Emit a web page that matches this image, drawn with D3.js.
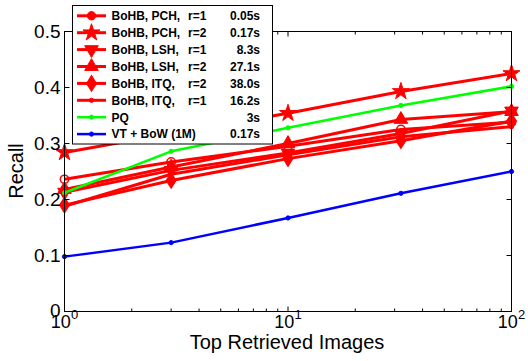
<!DOCTYPE html>
<html><head><meta charset="utf-8">
<script src="https://cdn.jsdelivr.net/npm/d3@7"></script>
<style>body{margin:0;background:#fff}svg{display:block}</style>
</head><body>
<svg id="c" width="528" height="361"></svg>
<script>
const xValues = [1, 3, 10, 32, 100];
const seriesNames = ["BoHB, PCH,", "BoHB, PCH,", "BoHB, LSH,", "BoHB, LSH,", "BoHB, ITQ,", "BoHB, ITQ,", "PQ", "VT + BoW (1M)"];
const seriesR = ["r=1", "r=2", "r=1", "r=2", "r=2", "r=1", "", ""];
const seriesTimes = ["0.05s", "0.17s", "8.3s", "27.1s", "38.0s", "16.2s", "3s", "0.17s"];
const pchR1 = [0.236, 0.267, 0.295, 0.325, 0.338];
const pchR2 = [0.284, 0.318, 0.354, 0.393, 0.425];
const lshR1 = [0.213, 0.252, 0.283, 0.318, 0.358];
const lshR2 = [0.218, 0.258, 0.300, 0.343, 0.357];
const itqR2 = [0.190, 0.234, 0.273, 0.305, 0.340];
const itqR1 = [0.188, 0.245, 0.280, 0.312, 0.330];
const pq = [0.212, 0.286, 0.328, 0.368, 0.402];
const vtBow = [0.098, 0.123, 0.167, 0.211, 0.250];
const yTicks = [0, 0.1, 0.2, 0.3, 0.4, 0.5];
const xTickExps = [0, 1, 2];

const seriesValues = [pchR1, pchR2, lshR1, lshR2, itqR2, itqR1, pq, vtBow];
const colors = ["#ff0000","#ff0000","#ff0000","#ff0000","#ff0000","#ff0000","#00ff00","#0000ff"];
const markers = ["circle","star","down","up","diamond","dot","dot","dot"];

const svg = d3.select("#c");
const L = 64.5, R = 511.5, T = 31.5, B = 311.5;
const x = d3.scaleLog().domain([1, 100]).range([L, R]);
const y = d3.scaleLinear().domain([0, 0.5]).range([B, T]);

function markerPath(m) {
  switch (m) {
    case "circle": return d3.symbol(d3.symbolCircle, 55)();
    case "star": return d3.symbol(d3.symbolStar, 90)();
    case "up": return d3.symbol(d3.symbolTriangle, 80)();
    case "down": return d3.symbol(d3.symbolTriangle, 80)();
    case "diamond": return d3.symbol(d3.symbolDiamond, 70)();
    default: return d3.symbol(d3.symbolCircle, 14)();
  }
}
function markerTransform(m, px, py) {
  return `translate(${px},${py})` + (m === "down" ? " rotate(180)" : "") + (m === "diamond" ? " scale(1.1,1)" : "");
}

const g = svg.append("g");
const lineGen = d3.line().x((d, i) => x(xValues[i])).y(d => y(d));

seriesValues.forEach((vals, s) => {
  const sg = g.append("g");
  sg.append("path").attr("d", lineGen(vals)).attr("fill", "none")
    .attr("stroke", colors[s]).attr("stroke-width", s < 6 ? 3 : 2.5).attr("stroke-linejoin", "round");
  vals.forEach((v, i) => {
    sg.append("path").attr("d", markerPath(markers[s]))
      .attr("transform", markerTransform(markers[s], x(xValues[i]), y(v)))
      .attr("stroke", colors[s]).attr("stroke-width", markers[s] === "circle" ? 1.5 : 1)
      .attr("fill", markers[s] === "circle" ? "none" : colors[s]);
  });
});

// frame
const ax = svg.append("g").attr("stroke", "#000").attr("stroke-width", 1).attr("fill", "none");
ax.append("rect").attr("x", L).attr("y", T).attr("width", R - L).attr("height", B - T);
yTicks.forEach(t => {
  ax.append("line").attr("x1", L).attr("x2", L + 5).attr("y1", y(t)).attr("y2", y(t));
  ax.append("line").attr("x1", R).attr("x2", R - 5).attr("y1", y(t)).attr("y2", y(t));
});
const xt = [];
for (let e = 0; e < 2; e++) for (let k = 1; k < 10; k++) xt.push(k * Math.pow(10, e));
xt.push(100);
xt.forEach(v => {
  const major = [1, 10, 100].includes(v);
  const len = major ? 5 : 3;
  ax.append("line").attr("x1", x(v)).attr("x2", x(v)).attr("y1", B).attr("y2", B - len);
  ax.append("line").attr("x1", x(v)).attr("x2", x(v)).attr("y1", T).attr("y2", T + len);
});

const font = "Liberation Sans, Arial, Helvetica, sans-serif";
yTicks.forEach(t => {
  svg.append("text").attr("x", L - 4).attr("y", y(t) - (t === 0 ? 1 : 0)).attr("dy", "0.36em")
    .attr("text-anchor", "end").attr("font-family", font).attr("font-size", 19)
    .text(d3.format("")(t));
});
xTickExps.forEach(e => {
  const tx = svg.append("text").attr("x", x(Math.pow(10, e))).attr("y", 328)
    .attr("text-anchor", "middle").attr("font-family", font).attr("font-size", 18);
  tx.append("tspan").text("10");
  tx.append("tspan").attr("dy", -9).attr("font-size", 13).text(String(e));
});
svg.append("text").attr("x", 287).attr("y", 349).attr("text-anchor", "middle")
  .attr("font-family", font).attr("font-size", 20).text("Top Retrieved Images");
svg.append("text").attr("transform", "translate(23,171) rotate(-90)").attr("text-anchor", "middle")
  .attr("font-family", font).attr("font-size", 20).text("Recall");

// legend
const lg = svg.append("g");
lg.append("rect").attr("x", 72.5).attr("y", 5.5).attr("width", 200).attr("height", 138.5)
  .attr("fill", "#fff").attr("stroke", "#000").attr("stroke-width", 1);
seriesNames.forEach((name, s) => {
  const ry = 15.8 + s * 16.9;
  lg.append("line").attr("x1", 77).attr("x2", 106).attr("y1", ry).attr("y2", ry)
    .attr("stroke", colors[s]).attr("stroke-width", s < 6 ? 3 : 2.5);
  lg.append("path").attr("d", markerPath(markers[s]))
    .attr("transform", markerTransform(markers[s], 91.5, ry))
    .attr("fill", colors[s]).attr("stroke", colors[s]).attr("stroke-width", 1);
  const tf = (sel) => sel.attr("font-family", font).attr("font-size", 12).attr("font-weight", "bold").attr("fill", "#000");
  tf(lg.append("text").attr("x", 111.5).attr("y", ry).attr("dy", "0.36em").text(name));
  if (seriesR[s]) tf(lg.append("text").attr("x", 188).attr("y", ry).attr("dy", "0.36em").text(seriesR[s]));
  tf(lg.append("text").attr("x", 260).attr("y", ry).attr("dy", "0.36em").attr("text-anchor", "end").text(seriesTimes[s]));
});
</script>
</body></html>
